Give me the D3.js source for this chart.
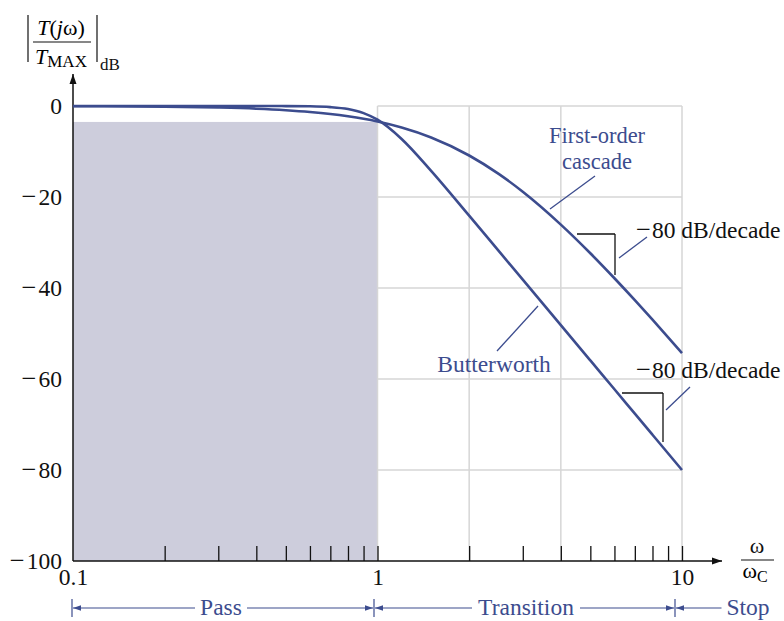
<!DOCTYPE html>
<html><head><meta charset="utf-8">
<script src="https://cdn.jsdelivr.net/npm/d3@7/dist/d3.min.js"></script>
<style>
body{margin:0;background:#fff;}
svg{display:block;font-family:"Liberation Serif","Times New Roman",serif;}
svg text{font-family:"Liberation Serif","Times New Roman",serif;}
</style></head>
<body><svg id="c" width="784" height="621"></svg>
<script>
// ---- data ----
const freqs = [0.1,0.2,0.3,0.4,0.5,0.6,0.7,0.8,0.9,1,1.2,1.5,2,2.5,3,4,5,6,7,8,10];
const butterworth = [0,0,0,-0.003,-0.02,-0.07,-0.24,-0.67,-1.56,-3.01,-7.24,-14.25,-24.1,-31.84,-38.17,-48.17,-55.92,-62.25,-67.61,-72.25,-80];
const firstOrderCascade = [-0.04,-0.15,-0.34,-0.59,-0.92,-1.31,-1.76,-2.27,-2.82,-3.42,-4.74,-6.93,-10.88,-14.92,-18.85,-26.07,-32.37,-37.86,-42.68,-46.97,-54.3];
const yTicks = [0,-20,-40,-60,-80,-100];
const xLabelTicks = [0.1,1,10];
const xMinorTicks = [0.2,0.3,0.4,0.5,0.6,0.7,0.8,0.9,1,2,3,4,5,6,7,8,9,10];
const gridY = [0,-20,-40,-60,-80];
const gridX = [1,2,4,10];
const passbandEdgeDb = -3.5;
const bands = ["Pass","Transition","Stop"];

const blue = "#3c4c8e";
const FS = 23.5;
const svg = d3.select("#c");
const x = d3.scaleLog().domain([0.1,10]).range([73,682]);
const y = d3.scaleLinear().domain([-100,0]).range([561,106]);

const defs = svg.append("defs");
function marker(id,color,w,h){
  defs.append("marker").attr("id",id).attr("viewBox","0 0 10 10").attr("refX",10).attr("refY",5)
    .attr("markerWidth",w).attr("markerHeight",h).attr("markerUnits","userSpaceOnUse").attr("orient","auto")
    .append("path").attr("d","M0,1.5 L10,5 L0,8.5 Z").attr("fill",color);
}
marker("axArrow","#111",14,10);
marker("bArrow",blue,12,8);

// shaded passband
svg.append("rect").attr("x",x(0.1)).attr("y",y(passbandEdgeDb))
  .attr("width",x(1)-x(0.1)).attr("height",y(-100)-y(passbandEdgeDb)).attr("fill","#cdcddc");

// grid
svg.append("g").selectAll("line").data(gridY).join("line")
  .attr("x1",x(1)).attr("x2",x(10)).attr("y1",d=>y(d)).attr("y2",d=>y(d))
  .attr("stroke","#d6d6d6").attr("stroke-width",1.5);
svg.append("g").selectAll("line").data(gridX).join("line")
  .attr("x1",d=>x(d)).attr("x2",d=>x(d)).attr("y1",y(0)).attr("y2",y(-100))
  .attr("stroke","#d6d6d6").attr("stroke-width",1.5);

// x minor ticks
const xt = svg.append("g").attr("transform",`translate(0,${y(-100)})`)
  .call(d3.axisTop(x).tickValues(xMinorTicks).tickSize(15).tickFormat(""));
xt.select(".domain").remove();
xt.selectAll(".tick line").attr("stroke","#111").attr("stroke-width",1.3);

// x labels
const xl = svg.append("g").attr("transform",`translate(0,${y(-100)})`)
  .call(d3.axisBottom(x).tickValues(xLabelTicks).tickSize(0).tickPadding(7).tickFormat(d3.format("~g")));
xl.select(".domain").remove();
xl.attr("font-family",null).attr("font-size",null);
xl.selectAll("text").attr("font-size",FS).attr("fill","#111");

// y labels
const yl = svg.append("g").attr("transform",`translate(${x(0.1)},0)`)
  .call(d3.axisLeft(y).tickValues(yTicks).tickSize(0).tickPadding(11).tickFormat(d=>String(Math.abs(d))));
yl.select(".domain").remove();
yl.attr("font-family",null).attr("font-size",null);
yl.selectAll("text").attr("font-size",FS).attr("fill","#111")
  .each(function(d){
    if(d<0){
      const el = d3.select(this); const v = el.text(); el.text("");
      el.append("tspan").text("\u2212").attr("font-size",FS+3);
      el.append("tspan").attr("dx",2).text(v);
    }
  });

// axes lines with arrows
svg.append("line").attr("x1",x(0.1)).attr("x2",x(0.1)).attr("y1",y(-100)).attr("y2",74)
  .attr("stroke","#111").attr("stroke-width",1.5).attr("marker-end","url(#axArrow)");
svg.append("line").attr("x1",x(0.1)).attr("x2",722).attr("y1",y(-100)).attr("y2",y(-100))
  .attr("stroke","#111").attr("stroke-width",1.5).attr("marker-end","url(#axArrow)");

// curves
const line = d3.line().x(d=>x(d[0])).y(d=>y(d[1])).curve(d3.curveMonotoneX);
[butterworth, firstOrderCascade].forEach(s=>{
  svg.append("path").datum(freqs.map((f,i)=>[f,s[i]])).attr("d",line)
    .attr("fill","none").attr("stroke",blue).attr("stroke-width",2.6);
});

// annotations
function t(xp,yp,str,opts={}){
  return svg.append("text").attr("x",xp).attr("y",yp).attr("font-size",opts.size||FS)
    .attr("fill",opts.fill||"#111").attr("text-anchor",opts.anchor||"start").text(str);
}
function ln(x1,y1,x2,y2,c,w){svg.append("line").attr("x1",x1).attr("y1",y1).attr("x2",x2).attr("y2",y2).attr("stroke",c).attr("stroke-width",w||1.3);}
t(597,143,"First-order",{fill:blue,anchor:"middle",size:22.5});
t(597,169,"cascade",{fill:blue,anchor:"middle",size:22.5});
ln(595,176,550,209,blue);
t(494,372,"Butterworth",{fill:blue,anchor:"middle"});
ln(497,351,538,306,blue);
// slope triangles
ln(577,234,615,234,"#111",1.3); ln(615,234,615,275,"#111",1.3);
const s1 = t(636,238,"");
s1.append("tspan").attr("font-size",FS+3).text("\u2212");
s1.append("tspan").attr("dx",1).text("80 dB/decade");
ln(647,237,619,258,blue);
ln(622,393,663,393,"#111",1.3); ln(663,393,663,442,"#111",1.3);
const s2 = t(636,378,"");
s2.append("tspan").attr("font-size",FS+3).text("\u2212");
s2.append("tspan").attr("dx",1).text("80 dB/decade");
ln(690,387,666,410,blue);

// y-axis title
const yt = svg.append("g");
yt.append("text").attr("x",61).attr("y",35).attr("text-anchor","middle").attr("font-size",22)
  .html('<tspan font-style="italic">T</tspan>(<tspan font-style="italic">j</tspan>ω)');
yt.append("line").attr("x1",33).attr("x2",91).attr("y1",42).attr("y2",42).attr("stroke","#111").attr("stroke-width",1.2);
yt.append("text").attr("x",35).attr("y",64).attr("font-size",22)
  .html('<tspan font-style="italic">T</tspan><tspan font-size="17" dy="3">MAX</tspan>');
ln(28,15,28,62,"#111",1.2); ln(97,15,97,62,"#111",1.2);
t(100,70,"dB",{size:17});

// x-axis title
t(757,553,"ω",{anchor:"middle",size:22});
ln(741,560,774,560,"#111",1.2);
svg.append("text").attr("x",755).attr("y",578).attr("text-anchor","middle").attr("font-size",22)
  .html('ω<tspan font-size="16" dy="4">C</tspan>');

// band arrows
const by = 608;
const barX = [72,374,675];
barX.forEach(bx=>ln(bx,599,bx,617,blue,1.2));
const bandSegs = [
  {cx:221, x0:72, x1:374, tw:42},
  {cx:526, x0:374, x1:675, tw:98},
  {cx:748, x0:675, x1:null, tw:43}
];
bandSegs.forEach((b,i)=>{
  t(b.cx,615,bands[i],{fill:blue,anchor:"middle"});
  svg.append("line").attr("x1",b.cx-b.tw/2-5).attr("x2",b.x0+1).attr("y1",by).attr("y2",by)
    .attr("stroke",blue).attr("stroke-width",1.2).attr("marker-end","url(#bArrow)");
  if(b.x1!==null) svg.append("line").attr("x1",b.cx+b.tw/2+5).attr("x2",b.x1-1).attr("y1",by).attr("y2",by)
    .attr("stroke",blue).attr("stroke-width",1.2).attr("marker-end","url(#bArrow)");
});
</script></body></html>
